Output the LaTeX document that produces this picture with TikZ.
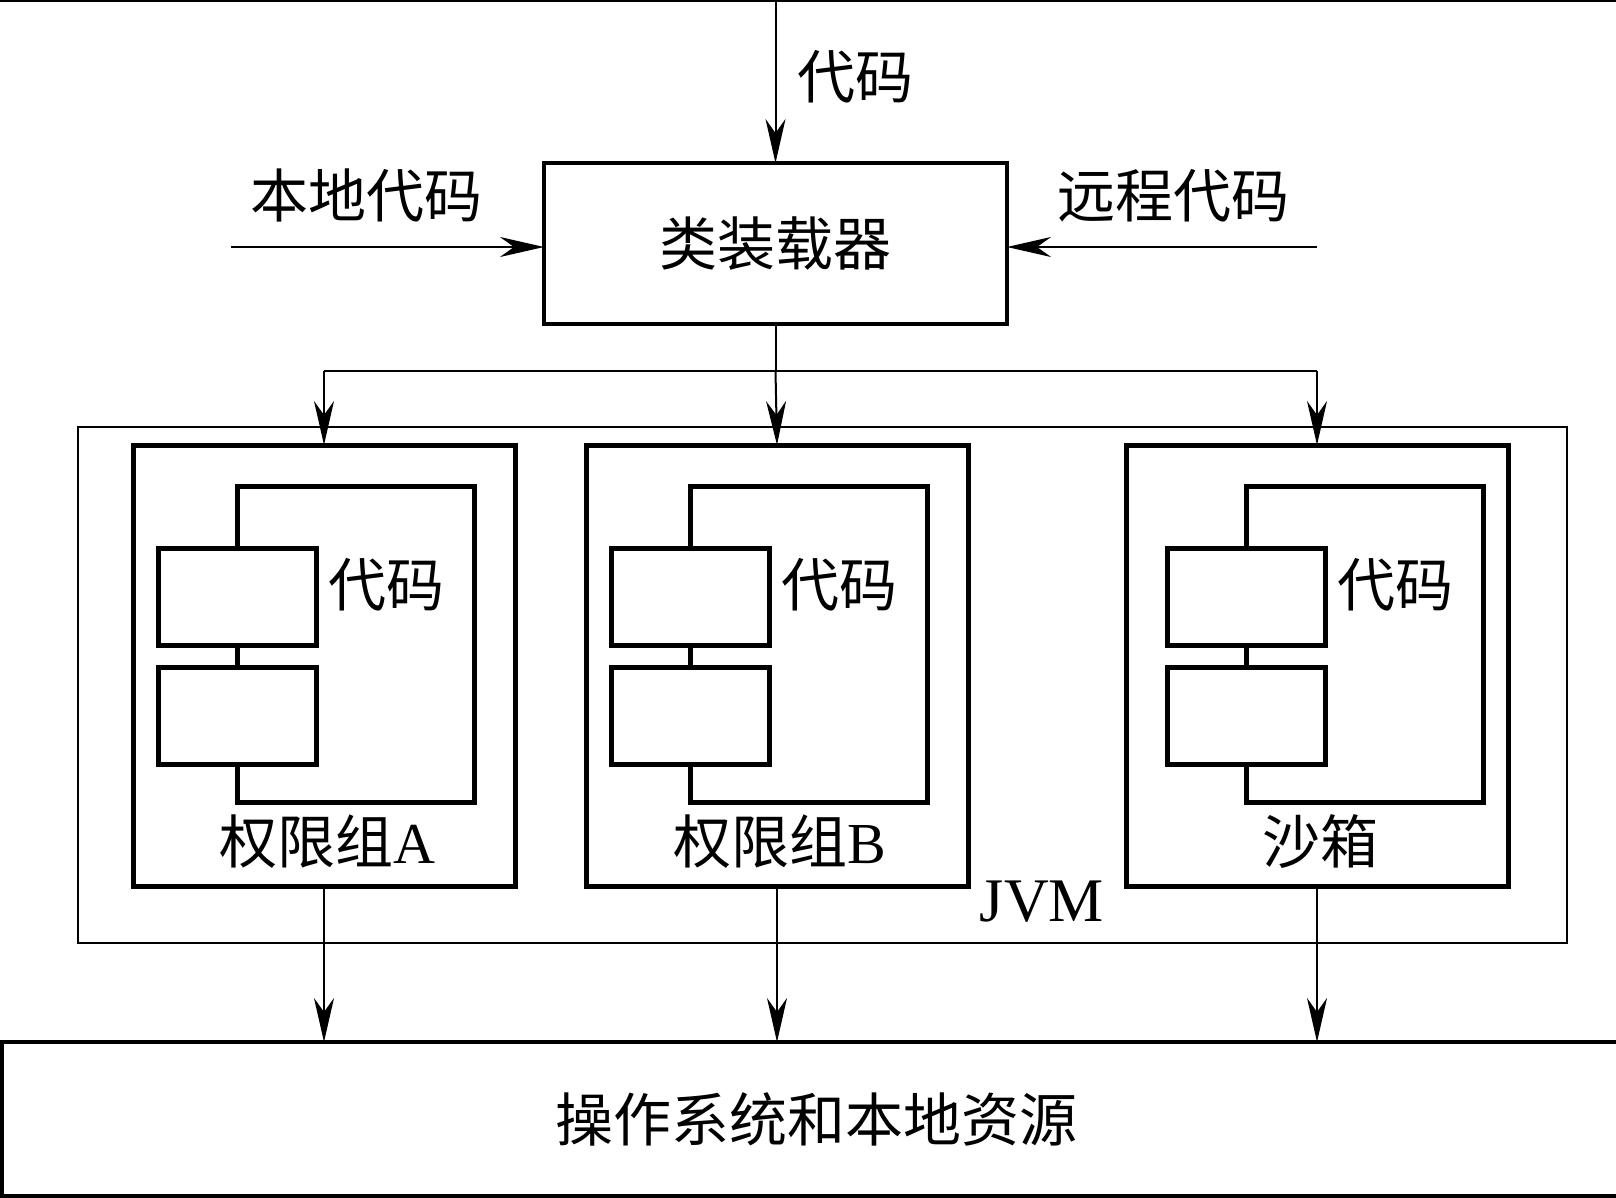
\documentclass[tikz,border=0pt]{standalone}
\usepackage{fontspec}
\setmainfont{Liberation Serif}
\newfontfamily\cjk{Noto Sans CJK SC}
\usetikzlibrary{arrows.meta}
\begin{document}
\begin{tikzpicture}[x=0.5pt,y=-0.5pt,
  thickbox/.style={draw,line width=2.3pt,inner sep=0pt,outer sep=0pt},
  innerbox/.style={draw,line width=2.5pt,inner sep=0pt,outer sep=0pt,fill=white},
  thinbox/.style={draw,line width=1.1pt,inner sep=0pt,outer sep=0pt},
  conn/.style={line width=1pt},
  arr/.style={conn,-{Stealth[length=22pt,width=10pt,inset=7pt]}},
  lbl/.style={inner sep=0pt,font=\fontsize{29}{30}\selectfont\cjk},
  bigrect/.style={innerbox,fill=none,minimum width=118.5pt,minimum height=158pt},
  codebox/.style={innerbox,minimum width=79pt,minimum height=48.5pt},
  group/.style={thickbox,line width=2.5pt,minimum width=191pt,minimum height=220.5pt},
]
\clip (0,0) rectangle (1616,1198);
\fill[white] (0,0) rectangle (1616,1198);
\draw[line width=1.2pt] (0,1) -- (1616,1);

% class loader and inputs
\node[thickbox,minimum width=231.5pt,minimum height=80.5pt,font=\fontsize{29}{30}\selectfont\cjk] (loader) at (775.5,243.5) {类装载器};
\node[lbl] (topT) at (855,77) {代码};
\node[lbl] (localT) at (366,196) {本地代码};
\node[lbl] (remoteT) at (1173,196) {远程代码};
\coordinate (topin) at (775.5,0);
\coordinate (lin) at (231,247);
\coordinate (rin) at (1317,247);
\draw[arr] (topin) -- (loader.north);
\draw[arr] (lin) -- (lin -| loader.west);
\draw[arr] (rin) -- (rin -| loader.east);

% JVM
\node[thinbox,minimum width=744.5pt,minimum height=258pt] (jvm) at (822.5,685) {};
\node[inner sep=0pt,font=\fontsize{31}{32}\selectfont] (jvmT) at (1042,902) {JVM};

% group A
\node[group] (gA) at (324,665.5) {};
\node[bigrect] (bA) at (355.5,644) {};
\node[codebox] (cA1) at (237,596.5) {};
\node[codebox] (cA2) at (237,715.5) {};
\node[lbl] (dA) at (386,585) {代码};
\node[lbl] (tA) at (327,842) {权限组{\rmfamily A}};

% group B
\node[group] (gB) at (777,665.5) {};
\node[bigrect] (bB) at (808.5,644) {};
\node[codebox] (cB1) at (690,596.5) {};
\node[codebox] (cB2) at (690,715.5) {};
\node[lbl] (dB) at (839,585) {代码};
\node[lbl] (tB) at (780,842) {权限组{\rmfamily B}};

% sandbox
\node[group] (gS) at (1317,665.5) {};
\node[bigrect] (bS) at (1364.5,644) {};
\node[codebox] (cS1) at (1246,596.5) {};
\node[codebox] (cS2) at (1246,715.5) {};
\node[lbl] (dS) at (1395,585) {代码};
\node[lbl] (tS) at (1320,842) {沙箱};

% distribution
\coordinate (br) at (775.5,371);
\draw[conn] (loader.south) -- (br);
\draw[conn] (gA.north |- br) -- (gS.north |- br);
\draw[arr] (gA.north |- br) -- (gA.north);
\draw[arr] (br) -- (gB.north);
\draw[arr] (gS.north |- br) -- (gS.north);

% OS
\node[thickbox,minimum width=814pt,minimum height=77pt,font=\fontsize{29}{30}\selectfont\cjk] (os) at (816,1119) {操作系统和本地资源};
\draw[arr] (gA.south) -- (gA.south |- os.north);
\draw[arr] (gB.south) -- (gB.south |- os.north);
\draw[arr] (gS.south) -- (gS.south |- os.north);
\end{tikzpicture}
\end{document}
